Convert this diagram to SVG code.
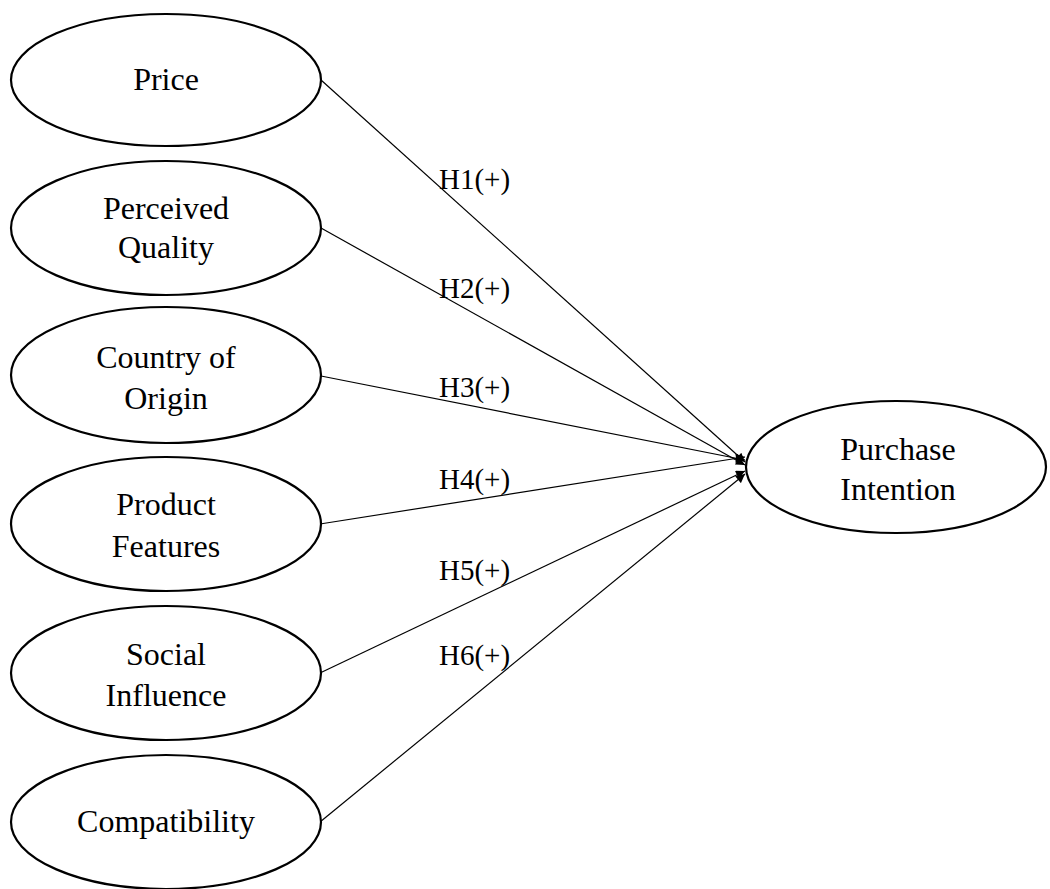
<svg xmlns="http://www.w3.org/2000/svg" width="1050" height="889" viewBox="0 0 1050 889">
<style>
.node ellipse{fill:#fff;stroke:#000;stroke-width:2.2}
.node text{font-family:"Liberation Serif","Times New Roman",serif;font-size:32px;text-anchor:middle;fill:#000}
.conn line{stroke:#000;stroke-width:1.2;marker-end:url(#arr)}
.lbl{font-family:"Liberation Serif","Times New Roman",serif;font-size:29px;fill:#000}
</style>
<defs>
<marker id="arr" viewBox="0 0 10 10" refX="10" refY="5" markerWidth="11" markerHeight="9" markerUnits="userSpaceOnUse" orient="auto">
<path d="M0,0 L10,5 L0,10 z" fill="#000"/>
</marker>
</defs>
<rect width="1050" height="889" fill="#fff"/>
<g class="conn">
<line x1="321" y1="80" x2="745" y2="462"/>
<line x1="321" y1="228" x2="745" y2="465"/>
<line x1="321" y1="376" x2="745" y2="460"/>
<line x1="320" y1="524" x2="745" y2="457"/>
<line x1="320" y1="673" x2="745" y2="471"/>
<line x1="320" y1="822" x2="745" y2="474"/>
</g>
<g id="labels">
<text class="lbl" x="439" y="189">H1(+)</text>
<text class="lbl" x="439" y="298">H2(+)</text>
<text class="lbl" x="439" y="397">H3(+)</text>
<text class="lbl" x="439" y="489">H4(+)</text>
<text class="lbl" x="439" y="580">H5(+)</text>
<text class="lbl" x="439" y="665">H6(+)</text>
</g>
<g id="price" class="node"><ellipse cx="166" cy="80" rx="155" ry="66"/><text x="166" y="90">Price</text></g>
<g id="perceived-quality" class="node"><ellipse cx="166" cy="228" rx="155" ry="67"/><text x="166" y="219">Perceived</text><text x="166" y="258">Quality</text></g>
<g id="country-of-origin" class="node"><ellipse cx="166" cy="375" rx="155" ry="68"/><text x="166" y="368">Country of</text><text x="166" y="409">Origin</text></g>
<g id="product-features" class="node"><ellipse cx="166" cy="524" rx="155" ry="67"/><text x="166" y="515">Product</text><text x="166" y="557">Features</text></g>
<g id="social-influence" class="node"><ellipse cx="166" cy="673" rx="155" ry="67"/><text x="166" y="665">Social</text><text x="166" y="706">Influence</text></g>
<g id="compatibility" class="node"><ellipse cx="166" cy="822" rx="155" ry="67"/><text x="166" y="832">Compatibility</text></g>
<g id="purchase-intention" class="node"><ellipse cx="896" cy="467" rx="150" ry="66"/><text x="898" y="460">Purchase</text><text x="898" y="500">Intention</text></g>
</svg>
